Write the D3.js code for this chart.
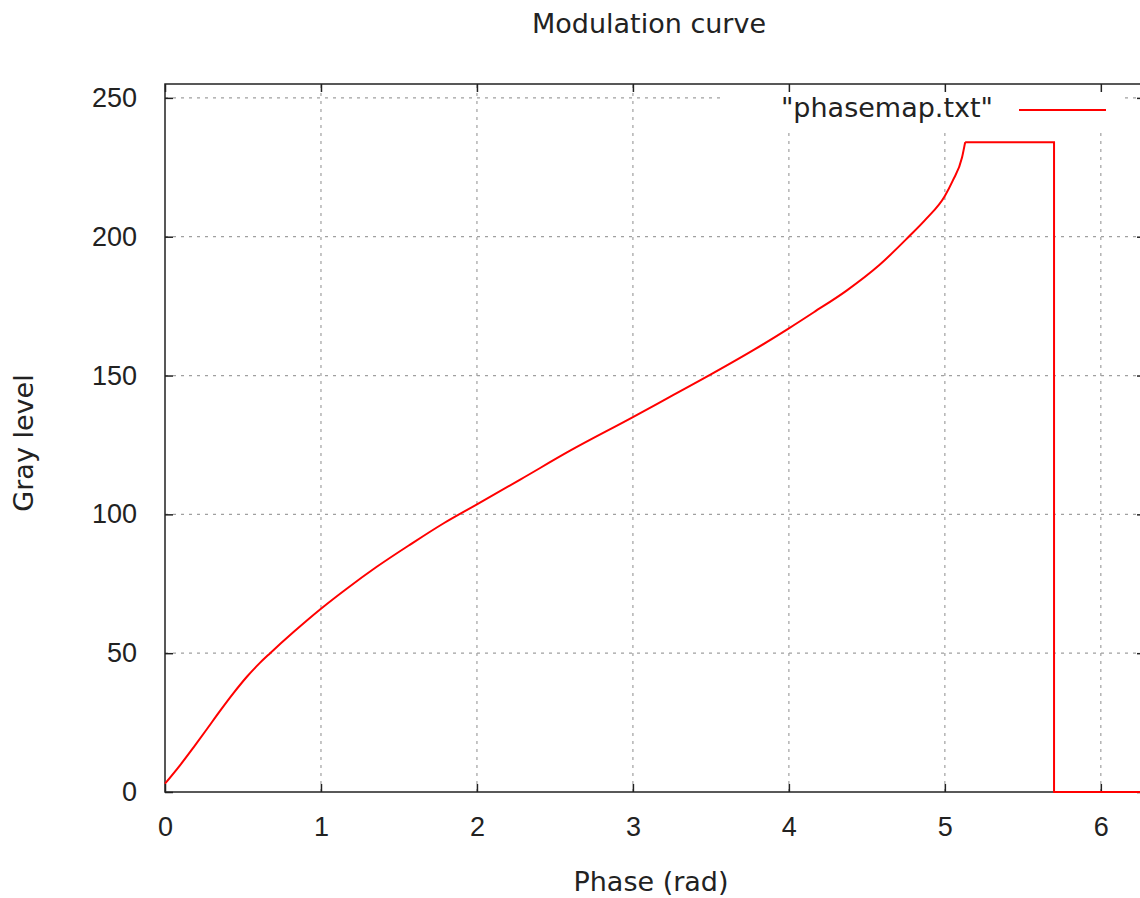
<!DOCTYPE html>
<html>
<head>
<meta charset="utf-8">
<script src="https://cdn.jsdelivr.net/npm/d3@7"></script>
<style>
  body { margin: 0; background: #fff; }
  svg { display: block; font-family: "DejaVu Sans", sans-serif; }
  .tick text { fill: #222; font-size: 27px; }
</style>
</head>
<body>
<div id="chart"></div>
<script>
// values
const phase = [0, 0.096, 0.182, 0.268, 0.353, 0.439, 0.525, 0.61, 0.674, 0.824, 1.0, 1.167, 1.36,
  1.574, 1.787, 2.0, 2.28, 2.6, 3.0, 3.24, 3.5, 3.78, 4.0, 4.16, 4.37, 4.58, 4.765, 4.88,
  5.0, 5.05, 5.11, 5.13];
const gray = [3, 9.6, 16.0, 22.6, 29.2, 35.6, 41.5, 46.6, 50, 57.6, 66, 73.3, 81.2,
  89.2, 96.8, 103.6, 112.6, 123, 135, 142.4, 150.4, 159.4, 167, 172.8, 180.6, 189.8, 199.8, 206.4,
  214.7, 220.1, 228.5, 234];
// plateau, drop and tail at zero
const tailPhase = [5.13, 5.70, 5.70, 2 * Math.PI];
const tailGray = [234, 234, 0, 0];

const xTicks = [0, 1, 2, 3, 4, 5, 6];
const yTicks = [0, 50, 100, 150, 200, 250];

const width = 1140, height = 898;
const margin = { top: 84, right: -5, bottom: 106, left: 165 };
const innerW = width - margin.left - margin.right;
const innerH = height - margin.top - margin.bottom;

const svg = d3.select('#chart').append('svg')
  .attr('width', width)
  .attr('height', height);

const x = d3.scaleLinear().domain([0, 2 * Math.PI]).range([margin.left, margin.left + innerW]);
const y = d3.scaleLinear().domain([0, 255]).range([margin.top + innerH, margin.top]);

// grid
const grid = svg.append('g').attr('stroke', '#a0a0a0').attr('stroke-width', 1.2)
  .attr('stroke-dasharray', '3,5');
grid.selectAll('.gx').data(xTicks.filter(d => d > 0)).join('line')
  .attr('x1', d => x(d)).attr('x2', d => x(d))
  .attr('y1', y(0)).attr('y2', y(255));
grid.selectAll('.gy').data(yTicks.filter(d => d > 0)).join('line')
  .attr('x1', x(0)).attr('x2', x(2 * Math.PI))
  .attr('y1', d => y(d)).attr('y2', d => y(d));

// legend box blanks the grid behind it
svg.append('rect')
  .attr('x', 723).attr('y', margin.top + 1)
  .attr('width', 400).attr('height', 43)
  .attr('fill', '#fff');

// axes with inward ticks, mirrored on top/right
svg.append('g')
  .attr('transform', `translate(0,${y(0)})`)
  .call(d3.axisBottom(x).tickValues(xTicks).tickSize(-8).tickPadding(25).tickFormat(d3.format('d')))
  .call(g => g.select('.domain').remove());
svg.append('g')
  .attr('transform', `translate(0,${y(255)})`)
  .call(d3.axisTop(x).tickValues(xTicks).tickSize(-8).tickFormat(''))
  .call(g => g.select('.domain').remove());
svg.append('g')
  .attr('transform', `translate(${x(0)},0)`)
  .call(d3.axisLeft(y).tickValues(yTicks).tickSize(-8).tickPadding(28))
  .call(g => g.select('.domain').remove());
svg.append('g')
  .attr('transform', `translate(${x(2 * Math.PI)},0)`)
  .call(d3.axisRight(y).tickValues(yTicks).tickSize(-8).tickFormat(''))
  .call(g => g.select('.domain').remove());
svg.selectAll('.tick line').attr('stroke', '#222').attr('stroke-width', 1.5);

// border
svg.append('rect')
  .attr('x', x(0)).attr('y', y(255))
  .attr('width', x(2 * Math.PI) - x(0)).attr('height', y(0) - y(255))
  .attr('fill', 'none').attr('stroke', '#222').attr('stroke-width', 1.5);

// data
const rise = phase.map((p, i) => [p, gray[i]]);
const tail = tailPhase.map((p, i) => [p, tailGray[i]]);

svg.append('path')
  .datum(rise)
  .attr('fill', 'none').attr('stroke', '#ff0000').attr('stroke-width', 2)
  .attr('d', d3.line().x(d => x(d[0])).y(d => y(d[1])).curve(d3.curveMonotoneX));
svg.append('path')
  .datum(tail)
  .attr('fill', 'none').attr('stroke', '#ff0000').attr('stroke-width', 2)
  .attr('d', d3.line().x(d => x(d[0])).y(d => y(d[1])));

// legend
svg.append('text')
  .attr('x', 993).attr('y', 117)
  .attr('text-anchor', 'end')
  .attr('font-size', 27).attr('fill', '#222')
  .text('"phasemap.txt"');
svg.append('line')
  .attr('x1', 1019).attr('x2', 1106)
  .attr('y1', 110).attr('y2', 110)
  .attr('stroke', '#ff0000').attr('stroke-width', 2);

// titles
svg.append('text')
  .attr('x', 649).attr('y', 33)
  .attr('text-anchor', 'middle')
  .attr('font-size', 27).attr('fill', '#222')
  .text('Modulation curve');
svg.append('text')
  .attr('x', 651).attr('y', 891)
  .attr('text-anchor', 'middle')
  .attr('font-size', 27).attr('fill', '#222')
  .text('Phase (rad)');
svg.append('text')
  .attr('transform', 'translate(33,443) rotate(-90)')
  .attr('text-anchor', 'middle')
  .attr('font-size', 27).attr('fill', '#222')
  .text('Gray level');
</script>
</body>
</html>
